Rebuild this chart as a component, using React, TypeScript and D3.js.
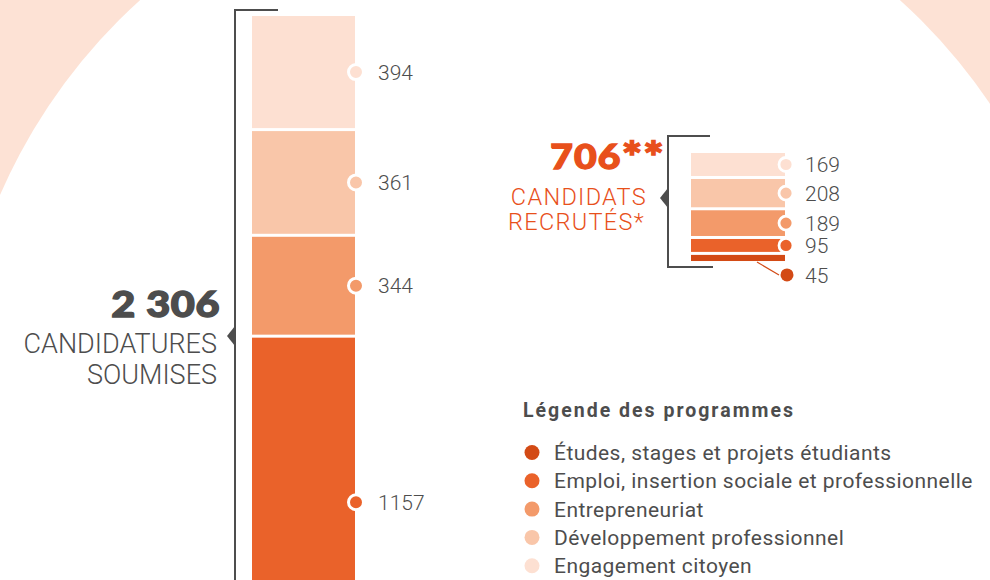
import React from 'react';
import * as d3 from 'd3';

const programmes = [
  'Engagement citoyen',
  'Développement professionnel',
  'Entrepreneuriat',
  'Emploi, insertion sociale et professionnelle',
  'Études, stages et projets étudiants',
];
const legendOrder = [4, 3, 2, 1, 0];
const colours = ['#fde0d2', '#f9c6a9', '#f39a6a', '#ea622a', '#d34a15'];
const candidatures = [394, 361, 344, 1157, 50];
const recrutes = [169, 208, 189, 95, 45];
const totalCandidatures = '2 306';
const totalRecrutes = '706';
const recrutesNote = '**';

const W = 990;
const H = 580;
const grey = '#4d4d4d';
const orange = '#e8501b';
const font = 'Roboto, "DejaVu Sans", sans-serif';
const heavy = 'Lato, Roboto, sans-serif';

function stack(values: number[], top: number, pxPerUnit: number, gap: number) {
  const total = d3.sum(values);
  const y = d3.scaleLinear().domain([0, total]).range([top, top + total * pxPerUnit]);
  let acc = 0;
  return values.map((v, i) => {
    const y0 = y(acc) + i * gap;
    const y1 = y(acc + v) + i * gap;
    acc += v;
    return { v, i, y0, y1 };
  });
}

function Bar({ values, x0, x1, top, pxPerUnit, gap, dotR, ring, labelSize, labelDx }: any) {
  const segs = stack(values, top, pxPerUnit, gap);
  let lastLabel = -Infinity;
  return (
    <g>
      {segs.map((s) => (
        <rect key={'r' + s.i} x={x0} y={s.y0} width={x1 - x0} height={Math.max(0, s.y1 - s.y0)} fill={colours[s.i]} />
      ))}
      {segs.map((s) => {
        const mid = (s.y0 + s.y1) / 2;
        if (mid > H) return null;
        const small = s.y1 - s.y0 < dotR * 1.6;
        const cy = small ? Math.max(mid + 17, lastLabel + 24) : mid;
        const cx = small ? x1 + 2 : x1 + 1;
        lastLabel = cy;
        return (
          <g key={'d' + s.i}>
            {small && (
              <line x1={x1 - 28} y1={s.y1 + 1} x2={cx - 8} y2={cy} stroke={colours[s.i]} strokeWidth={1.2} />
            )}
            <circle cx={cx} cy={cy} r={small ? dotR - 0.5 : dotR} fill={colours[s.i]} stroke="#fff" strokeWidth={small ? 0 : ring} />
            <text x={x1 + labelDx} y={cy} dy="0.36em" fontFamily={font} fontWeight={300} fontSize={labelSize} fill={grey}>
              {s.v}
            </text>
          </g>
        );
      })}
    </g>
  );
}

export default function App() {
  return (
    <svg width={W} height={H} style={{ position: 'absolute', left: 0, top: 0, display: 'block' }}>
      <rect width={W} height={H} fill="#fde2d5" />
      <circle cx={520} cy={421} r={567} fill="#fff" />

      {/* candidatures soumises */}
      <path d="M278,10 H235 V580" fill="none" stroke={grey} strokeWidth={2} />
      <path d="M235,326 L227,336 L235,346 Z" fill={grey} />
      <Bar values={candidatures} x0={252} x1={355} top={16} pxPerUnit={0.2845} gap={3} dotR={7.5} ring={3} labelSize={21} labelDx={23} />
      <text transform="translate(220,317) scale(1.12,1)" textAnchor="end" fontFamily={heavy} fontWeight={900} fontSize={37} letterSpacing={0.5} fill={grey} stroke={grey} strokeWidth={1.4}>
        {totalCandidatures}
      </text>
      <text x={217} y={353} textAnchor="end" fontFamily={font} fontWeight={300} fontSize={27} fill={grey}>
        CANDIDATURES
      </text>
      <text x={217} y={384} textAnchor="end" fontFamily={font} fontWeight={300} fontSize={27} fill={grey}>
        SOUMISES
      </text>

      {/* candidats recrutés */}
      <path d="M710,136 H668 V267 H713" fill="none" stroke={grey} strokeWidth={2} />
      <path d="M668,188 L660,198 L668,208 Z" fill={grey} />
      <Bar values={recrutes} x0={691} x1={785} top={153} pxPerUnit={0.136} gap={3} dotR={7} ring={2.8} labelSize={21} labelDx={20} />
      <text transform="translate(665,169) scale(1.15,1)" textAnchor="end" fontFamily={heavy} fontWeight={900} fontSize={34} letterSpacing={1} fill={orange} stroke={orange} strokeWidth={1.3}>
        {totalRecrutes}
        <tspan fontSize={42} dy={3}>{recrutesNote}</tspan>
      </text>
      <text x={647} y={205} textAnchor="end" fontFamily={font} fontWeight={300} fontSize={23.5} letterSpacing={1.3} fill={orange}>
        CANDIDATS
      </text>
      <text x={645} y={229.5} textAnchor="end" fontFamily={font} fontWeight={300} fontSize={23.5} letterSpacing={1.3} fill={orange}>
        RECRUTÉS*
      </text>

      {/* légende */}
      <text x={523} y={417} fontFamily={font} fontWeight={700} fontSize={19.5} letterSpacing={2} fill={grey}>
        Légende des programmes
      </text>
      {legendOrder.map((k, j) => (
        <g key={k} transform={`translate(0,${452.5 + j * 28.3})`}>
          <circle cx={532} cy={0} r={7.5} fill={colours[k]} />
          <text x={554} y={0} dy="0.36em" fontFamily={font} fontWeight={400} fontSize={21} letterSpacing={0.45} fill={grey}>
            {programmes[k]}
          </text>
        </g>
      ))}
    </svg>
  );
}
